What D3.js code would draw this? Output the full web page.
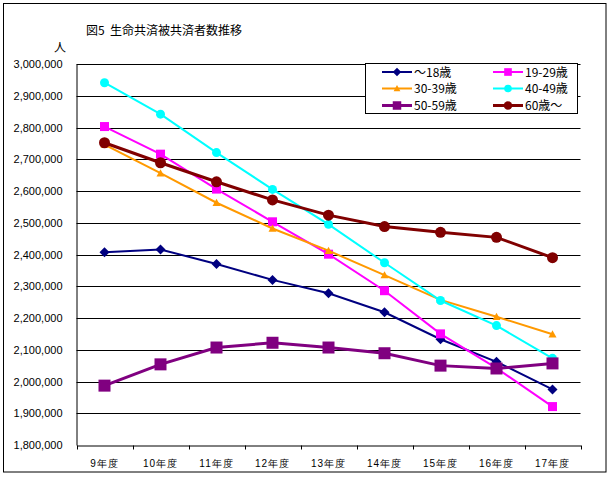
<!DOCTYPE html>
<html><head><meta charset="utf-8">
<script src="https://cdn.jsdelivr.net/npm/d3@7/dist/d3.min.js"></script>
<style>
html,body{margin:0;padding:0;background:#fff;}
svg{display:block;font-family:"MS PGothic","Noto Sans CJK JP",sans-serif;}
</style></head>
<body>
<svg id="chart" width="609" height="477"></svg>
<script>
const categories = ["9年度","10年度","11年度","12年度","13年度","14年度","15年度","16年度","17年度"];
const seriesNames = ["～18歳","19-29歳","30-39歳","40-49歳","50-59歳","60歳～"];
const s18   = [2407000,2416000,2370000,2320000,2278000,2218000,2133000,2062000,1975000];
const s1929 = [2803000,2716000,2606000,2503000,2401000,2286000,2150000,2042000,1921000];
const s3039 = [2746000,2656000,2563000,2482000,2412000,2335000,2257000,2204000,2149000];
const s4049 = [2941000,2842000,2721000,2605000,2495000,2374000,2255000,2176000,2073000];
const s5059 = [1987000,2054000,2107000,2122000,2107000,2089000,2050000,2041000,2057000];
const s60   = [2752000,2689000,2629000,2572000,2524000,2488000,2470000,2454000,2390000];
const yTicks = [1800000,1900000,2000000,2100000,2200000,2300000,2400000,2500000,2600000,2700000,2800000,2900000,3000000];
const title = "図5  生命共済被共済者数推移";
const unit = "人";

const styles = [
  {color:"#000080", width:2, marker:"diamond", size:10},
  {color:"#FF00FF", width:2, marker:"square", size:9},
  {color:"#FF9900", width:2, marker:"triangle", size:8},
  {color:"#00FFFF", width:2, marker:"circle", size:9},
  {color:"#800080", width:3, marker:"square", size:12},
  {color:"#800000", width:3, marker:"circle", size:11}
];
const allSeries = [s18,s1929,s3039,s4049,s5059,s60];

(function(){
const svg = d3.select("#chart");
svg.append("rect").attr("x",3.5).attr("y",3.5).attr("width",602.5).attr("height",468.5)
  .attr("fill","#fff").attr("stroke","#000").attr("stroke-width",1);

const pL=76.5, pR=580.5, pT=64, pB=445;
const x = d3.scaleBand().domain(categories).range([pL,pR]).paddingInner(0).paddingOuter(0);
const y = d3.scaleLinear().domain([1800000,3000000]).range([pB,pT]);

// gridlines
svg.append("g").selectAll("line").data(yTicks.filter(d=>d>1800000)).join("line")
  .attr("x1",pL).attr("x2",pR)
  .attr("y1",d=>Math.round(y(d))+0.5).attr("y2",d=>Math.round(y(d))+0.5)
  .attr("stroke","#000").attr("stroke-width",1);

// y axis
const yAxis = d3.axisLeft(y).tickValues(yTicks).tickSize(0).tickPadding(14)
  .tickFormat(d3.format(","));
const gy = svg.append("g").attr("transform",`translate(${pL},0)`).call(yAxis);
gy.select(".domain").attr("stroke","#000");
gy.selectAll("text").attr("font-size",11).attr("fill","#000");

// x axis
const xAxis = d3.axisBottom(x).tickSize(0).tickPadding(14);
const gx = svg.append("g").attr("transform",`translate(0,${pB+0.5})`).call(xAxis);
gx.select(".domain").attr("stroke","#000");
gx.selectAll("text").attr("font-size",10).attr("fill","#000").attr("letter-spacing","1px");
const bounds = categories.map(c=>x(c)).concat([x(categories[categories.length-1])+x.bandwidth()]);
gx.append("g").selectAll("line").data(bounds).join("line")
  .attr("x1",d=>Math.round(d)+0.5).attr("x2",d=>Math.round(d)+0.5)
  .attr("y1",0).attr("y2",4).attr("stroke","#000");

// title & unit
svg.append("text").attr("x",86).attr("y",35).attr("font-size",12).attr("fill","#000")
  .attr("xml:space","preserve").text(title);
svg.append("text").attr("x",60).attr("y",52).attr("font-size",12).attr("text-anchor","middle").attr("fill","#000").text(unit);

const cx = c => x(c) + x.bandwidth()/2;

function drawMarker(g, type, size, color){
  const h=size/2;
  if(type==="diamond") g.append("path").attr("d",`M0,${-h}L${h},0L0,${h}L${-h},0Z`).attr("fill",color);
  else if(type==="square") g.append("rect").attr("x",-h).attr("y",-h).attr("width",size).attr("height",size).attr("fill",color);
  else if(type==="circle") g.append("circle").attr("r",h).attr("fill",color);
  else if(type==="triangle") g.append("path").attr("d",`M0,${-h}L${h},${h*0.8}L${-h},${h*0.8}Z`).attr("fill",color);
}

const line = d3.line().x((d,i)=>cx(categories[i])).y(d=>y(d));
allSeries.forEach((vals,si)=>{
  const st = styles[si];
  const g = svg.append("g");
  g.append("path").datum(vals).attr("d",line).attr("fill","none")
    .attr("stroke",st.color).attr("stroke-width",st.width);
  vals.forEach((v,i)=>{
    const mg = g.append("g").attr("transform",`translate(${cx(categories[i])},${y(v)})`);
    drawMarker(mg, st.marker, st.size, st.color);
  });
});

// legend
const lg = svg.append("g");
lg.append("rect").attr("x",365.5).attr("y",63.5).attr("width",212).attr("height",50)
  .attr("fill","#fff").attr("stroke","#000");
const colX=[382,493], rowY=[72,88.5,105.5];
seriesNames.forEach((n,i)=>{
  const st=styles[i];
  const lx=colX[i%2], ly=rowY[Math.floor(i/2)];
  lg.append("line").attr("x1",lx).attr("x2",lx+30).attr("y1",ly).attr("y2",ly)
    .attr("stroke",st.color).attr("stroke-width",st.width);
  const mg=lg.append("g").attr("transform",`translate(${lx+15},${ly})`);
  drawMarker(mg, st.marker, Math.min(st.size,10)*0.85, st.color);
  lg.append("text").attr("x",lx+32).attr("y",ly+4.5).attr("font-size",12).attr("fill","#000").text(n);
});
})();
</script>
</body></html>
